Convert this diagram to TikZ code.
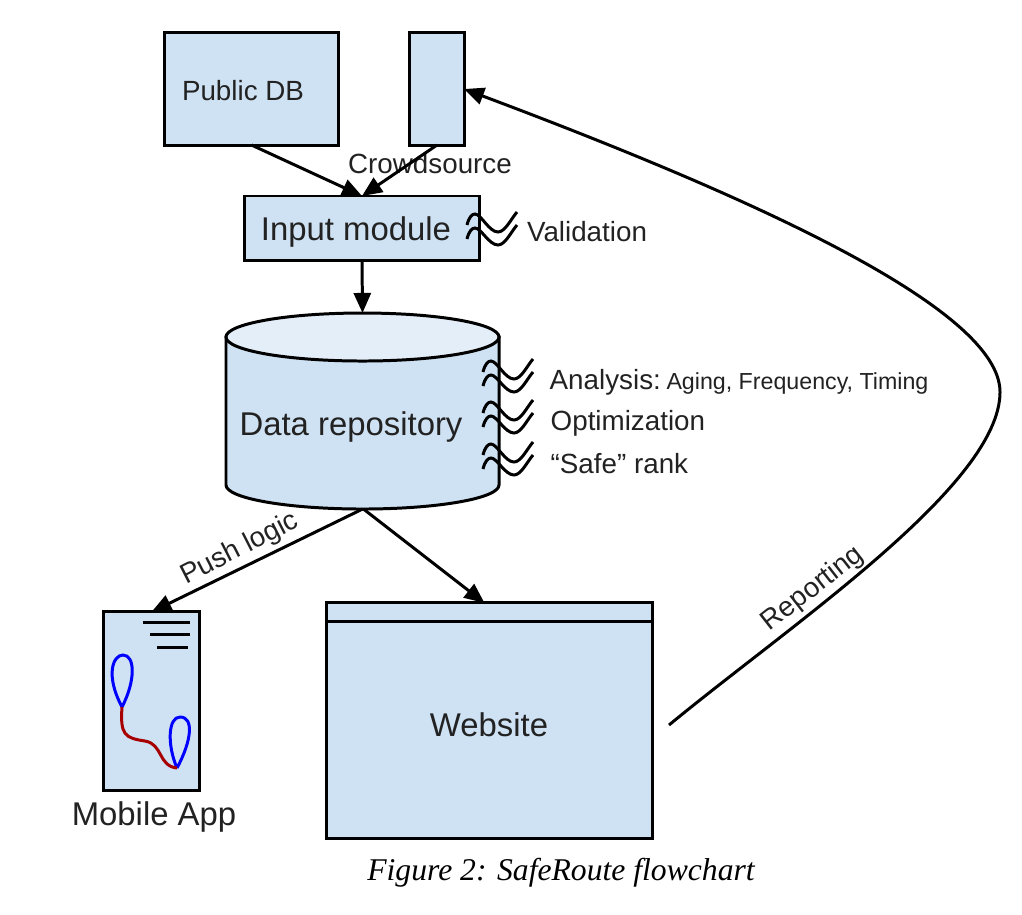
\documentclass[tikz,border=0pt]{standalone}
\usepackage{fontspec}
\setmainfont{Liberation Sans}
\newfontfamily\capfont{Liberation Serif}
\usetikzlibrary{arrows.meta}
\definecolor{boxblue}{HTML}{CFE2F3}
\definecolor{boxtop}{HTML}{E4EEF8}
\definecolor{inktext}{HTML}{222222}
\tikzset{
  flow/.style={-{Triangle[length=0.2cm,width=0.17cm]},line width=0.85pt},
  block/.style={draw=black,fill=boxblue,line width=0.85pt,inner sep=0pt,outer sep=0pt},
  lbl/.style={inner sep=0pt,text=inktext,font=\fontsize{7.9pt}{9pt}\selectfont},
  biglbl/.style={lbl,font=\fontsize{9.35pt}{11pt}\selectfont},
  pics/squiggle/.style={code={
    \draw [line width=0.85pt] (0,0) .. controls (2,-8) and (5,-11) .. (8,-11) .. controls (14,-11) and (22,7) .. (31,7) .. controls (38,7) and (44,-6) .. (50,-13);
    \draw [line width=0.85pt] (0,14) .. controls (2,6) and (5,3) .. (8,3) .. controls (14,3) and (22,20) .. (31,20) .. controls (38,20) and (44,7) .. (50,0);
  }}
}
\begin{document}
\begin{tikzpicture}[x=0.01cm,y=-0.01cm]
\useasboundingbox (0,0) rectangle (1022,914);
% top row
\node [block,minimum width=1.73cm,minimum height=1.12cm] (pubdb) at (251.5,89) {};
\node [lbl] (pubdbtext) at (243,91) {Public DB};
\node [block,minimum width=0.54cm,minimum height=1.12cm] (crowd) at (437,89) {};
\node [block,minimum width=2.34cm,minimum height=0.64cm] (input) at (362,228) {};
\node [biglbl] (inputtext) at (356,232) {Input module};
\node [lbl] (crowdtext) at (430,164) {Crowdsource};
\node [lbl] (validtext) at (587,232) {Validation};
% repository
\node [inner sep=0pt,outer sep=0pt,minimum width=2.73cm,minimum height=1.96cm] (repo) at (362.5,411) {};
\draw [block] (226,337) -- (226,485) arc (180:0:136.5 and 24) -- (499,337) -- cycle;
\draw [block,fill=boxtop] (362.5,337) ellipse (136.5 and 24);
\node [biglbl] (repotext) at (351,427) {Data repository};
\node [lbl,anchor=west] (analysis) at (549,382) {Analysis:\hspace{1.6pt}{\fontsize{6.6pt}{8pt}\selectfont Aging, Frequency, Timing}};
\node [lbl,anchor=west] (optim) at (550,423) {Optimization};
\node [lbl,anchor=west] (rank) at (550,464) {``Safe'' rank};
% bottom row
\node [block,minimum width=0.95cm,minimum height=1.78cm] (app) at (151.5,701) {};
\node [biglbl] (apptext) at (154,817) {Mobile App};
\node [block,minimum width=3.25cm,minimum height=2.35cm] (web) at (489.5,720.5) {};
\node [biglbl] (webtext) at (489,725) {Website};
\draw [line width=0.85pt] (web.north west) ++(0,19) -- ++(325,0);
% phone screen
\draw [line width=0.85pt] (143,622) -- (190,622);
\draw [line width=0.85pt] (150,634) -- (190,634);
\draw [line width=0.85pt] (157,647) -- (188,647);
\coordinate (stopa) at (122,707);
\coordinate (stopb) at (177,768);
\draw [blue,line width=0.85pt] (stopa) .. controls (105,675) and (113,655) .. (123,655) .. controls (135,655) and (136,680) .. (stopa);
\draw [blue,line width=0.85pt] (stopb) .. controls (167,745) and (168,717) .. (180,717) .. controls (194,717) and (192,740) .. (stopb);
\draw [red!65!black,line width=0.85pt] (stopa) .. controls (120,735) and (125,738) .. (145,741) .. controls (163,744) and (158,766) .. (stopb);
% connectors
\draw [flow] (pubdb.south) -- (input.north);
\draw [flow] (crowd.south) -- (input.north);
\draw [flow] (input.south) -- (repo.north);
\draw [flow] (repo.south) -- (app.north);
\draw [flow] ([xshift=0.01cm]repo.south) -- ([xshift=-0.05cm]web.north);
\coordinate (reportstart) at (669,725);
\draw [flow] (reportstart) .. controls (790,625) and (1000,485) .. (1000,392) .. controls (1000,310) and (760,200) .. (crowd.east);
\node [lbl,rotate=38] (reporttext) at (813,589) {Reporting};
\node [lbl,rotate=27] (pushtext) at (240,549) {Push logic};
% process marks
\pic at (467,225) {squiggle};
\pic at (483,372) {squiggle};
\pic at (483,413) {squiggle};
\pic at (483,455) {squiggle};
\node [text=black,font=\capfont\itshape\fontsize{9pt}{11pt}\selectfont,inner sep=0pt] (caption) at (561,873) {Figure 2: SafeRoute flowchart};
\end{tikzpicture}
\end{document}
